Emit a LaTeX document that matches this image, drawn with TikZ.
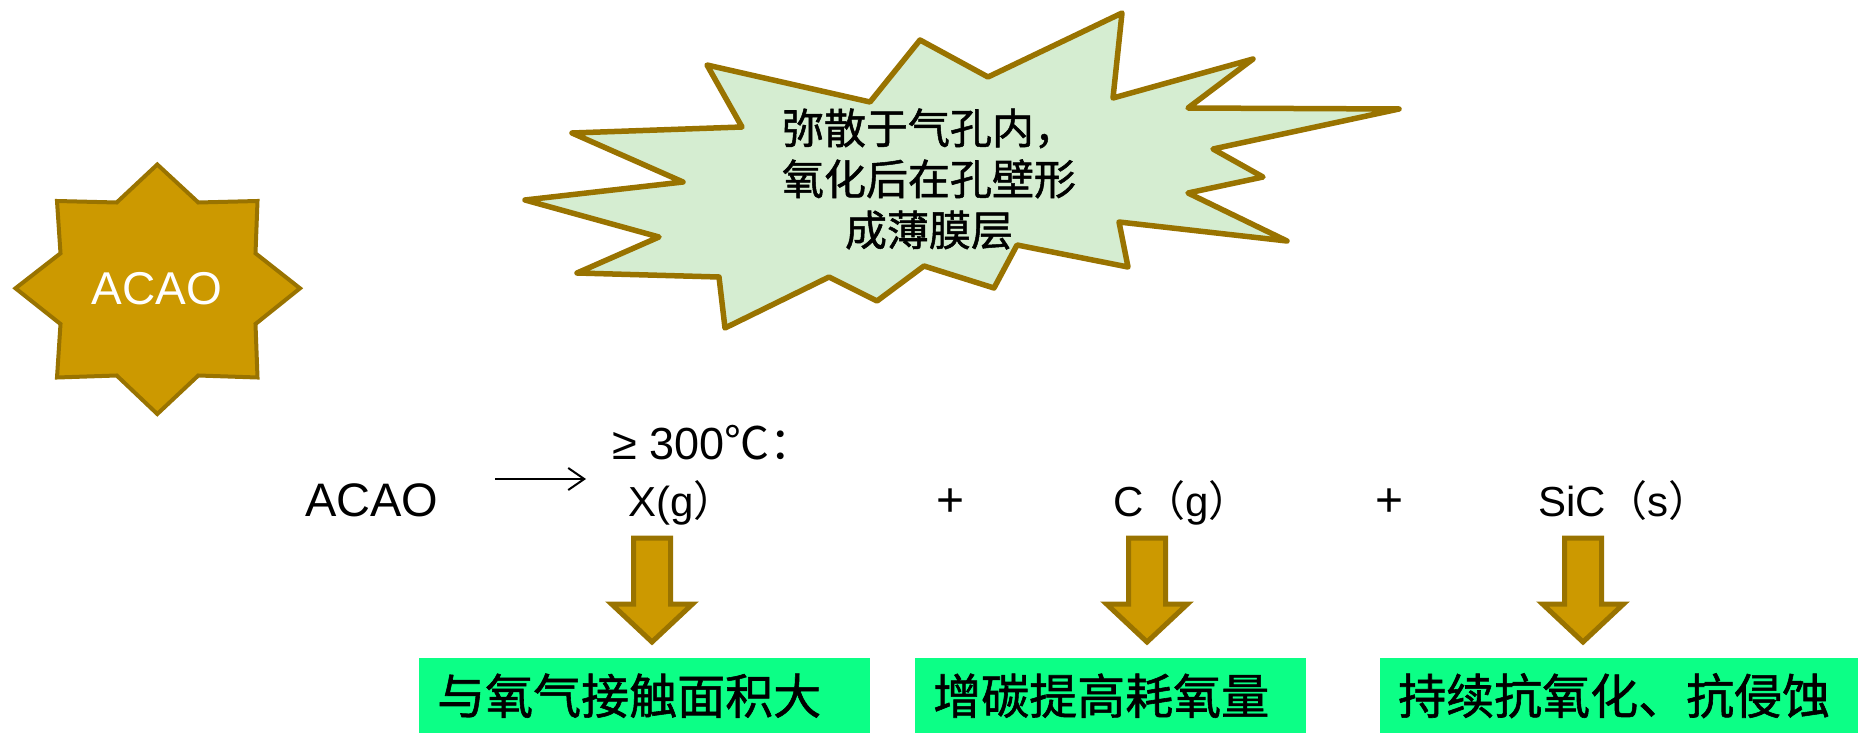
\documentclass[tikz,border=0pt]{standalone}
\usepackage{fontspec}
\setmainfont{Liberation Sans}
\newfontfamily\cjk{Noto Sans CJK SC}
\newfontfamily\cjkb[FakeBold=1.2]{Noto Sans CJK SC}
\usetikzlibrary{arrows.meta}
\definecolor{gold}{HTML}{CC9900}
\definecolor{goldline}{HTML}{997300}
\definecolor{bubblefill}{HTML}{D5EDD1}
\definecolor{boxgreen}{HTML}{0CFF86}
\tikzset{
  starshape/.style={fill=gold,draw=goldline,line width=4pt,line join=miter},
  bubbleshape/.style={fill=bubblefill,draw=goldline,line width=5.5pt,line join=round},
  blockarrow/.style={fill=gold,draw=goldline,line width=5pt,line join=miter},
  eqtext/.style={anchor=base west,inner sep=0pt,font=\fontsize{42}{50}\selectfont},
  greenbox/.style={anchor=north west,fill=boxgreen,inner xsep=18pt,inner ysep=0pt,
    minimum height=75pt,align=left,font=\cjkb\fontsize{48}{56}\selectfont},
  downarrow/.pic={\draw[blockarrow] (-18.5,0) -- (18.5,0) -- (18.5,66) -- (40.5,66)
     -- (0,104) -- (-40.5,66) -- (-18.5,66) -- cycle;}
}
\begin{document}
\begin{tikzpicture}[x=1pt,y=-1pt]
\useasboundingbox (0,0) rectangle (1858,733);
% star
\draw[starshape] (157.3,164.5) -- (198.3,202.5) -- (257.5,201) -- (255.5,253.3) -- (300,288.3)
  -- (255.5,324) -- (257.5,377.5) -- (198.3,375.5) -- (157.3,414) -- (116.7,375.5)
  -- (57,377.5) -- (60.5,324) -- (15.5,288.3) -- (60.5,253.3) -- (57,201) -- (116.7,202.5) -- cycle;
\node[text=white,font=\fontsize{46}{50}\selectfont] (star) at (157,289) {ACAO};
% bubble
\draw[bubbleshape] (707,65) -- (870,102) -- (920,40) -- (988,77) -- (1122,13) -- (1113,98)
  -- (1253,59) -- (1188,108) -- (1399,109) -- (1213,149) -- (1263,177) -- (1188,193)
  -- (1287,241) -- (1119,222) -- (1128,267) -- (1017,245) -- (994,288) -- (924,266)
  -- (877,301) -- (829,277) -- (725,328) -- (719,277) -- (577,273) -- (659,237)
  -- (525,200) -- (683,182) -- (572,133) -- (742,127) -- cycle;
\node[align=center,font=\cjkb\fontsize{42}{51}\selectfont] (bubble) at (929,179)
  {弥散于气孔内，\\氧化后在孔壁形\\成薄膜层};
% equation
\node[eqtext,font=\fontsize{47}{50}\selectfont] (acao) at (305,516) {ACAO};
\coordinate (ra) at (495,479);
\coordinate (rb) at (586,479);
\draw[line width=2pt,-{Straight Barb[length=16pt,width=22pt,line width=2pt]}] (ra) -- (rb);
\node[eqtext,font=\fontsize{45}{50}\selectfont] (temp) at (612,459) {≥ 300{\cjk ℃：}};
\node[eqtext] (xg) at (628,516) {X(g{\cjk ）}};
\node[eqtext,anchor=base,font=\fontsize{48}{50}\selectfont] (plusa) at (951,516) {+};
\node[eqtext] (cg) at (1113,516) {C{\cjk （}g{\cjk ）}};
\node[eqtext,anchor=base,font=\fontsize{48}{50}\selectfont] (plusb) at (1389,516) {+};
\node[eqtext] (sic) at (1538,516) {SiC{\cjk （}s{\cjk ）}};
% block arrows
\coordinate (aa) at (652,538);
\coordinate (ab) at (1147,538);
\coordinate (ac) at (1583,538);
\pic at (aa) {downarrow};
\pic at (ab) {downarrow};
\pic at (ac) {downarrow};
% boxes
\node[greenbox,minimum width=451pt,text width=415pt] (boxa) at (419,658) {与氧气接触面积大};
\node[greenbox,minimum width=391pt,text width=355pt] (boxb) at (915,658) {增碳提高耗氧量};
\node[greenbox,minimum width=478pt,text width=442pt] (boxc) at (1380,658) {持续抗氧化、抗侵蚀};
\end{tikzpicture}
\end{document}
